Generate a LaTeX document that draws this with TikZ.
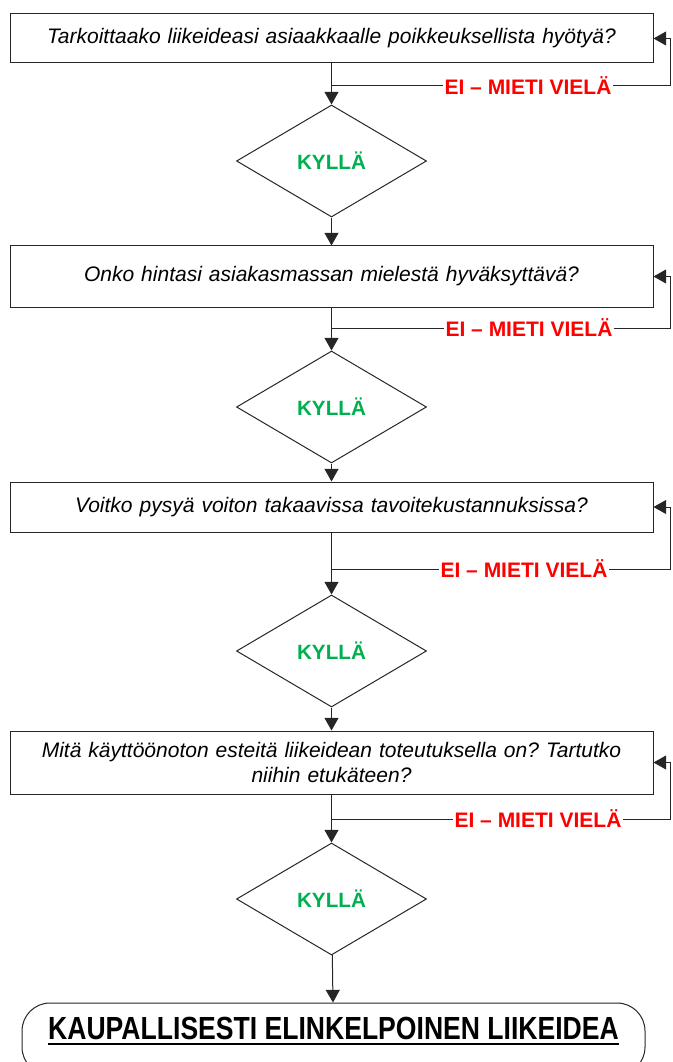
\documentclass[tikz,border=0pt]{standalone}
\usepackage{fontspec}
\setmainfont{Liberation Sans}
\usepackage{graphicx}
\usetikzlibrary{shapes.geometric,arrows.meta}
\definecolor{kgreen}{RGB}{0,176,80}
\definecolor{kred}{RGB}{255,0,0}
\newcommand\myul[1]{\setbox0\hbox{#1}\rlap{\rule[-3.75pt]{\wd0}{1.5pt}}\box0}
\frenchspacing
\begin{document}
\begin{tikzpicture}[x=0.75pt,y=-0.75pt,
  qbox/.style={draw=black!85, line width=0.75pt, minimum width=482.25pt, inner sep=0pt,
    align=center, text width=470pt, font=\fontsize{15.75pt}{18.75pt}\selectfont\itshape\frenchspacing},
  dec/.style={diamond, draw=black!85, line width=0.75pt, minimum width=142.5pt,
    minimum height=84pt, inner sep=0pt, text=kgreen, font=\fontsize{15.5pt}{18pt}\selectfont\bfseries},
  nolabel/.style={fill=white, inner sep=1.5pt, text=kred, font=\fontsize{15.75pt}{18pt}\selectfont\bfseries},
  arr/.style={draw=black!85, line width=0.75pt, -{Triangle[length=9.5pt,width=10.5pt]}},
  term/.style={draw=black!85, line width=0.75pt, rounded corners=21pt, minimum width=467.25pt, minimum height=54pt, inner sep=0pt}
]
\useasboundingbox (0,0) rectangle (672,1062);

% boxes
\node[qbox, minimum height=36.75pt] (b1) at (331.5,38.5) {Tarkoittaako liikeideasi asiaakkaalle poikkeuksellista hyötyä?};
\node[qbox, minimum height=45.75pt] (b2) at (331.5,276.5) {Onko hintasi asiakasmassan mielestä hyväksyttävä?};
\node[qbox, minimum height=37.5pt] (b3) at (331.5,507) {Voitko pysyä voiton takaavissa tavoitekustannuksissa?};
\node[qbox, minimum height=47.25pt] (b4) at (331.5,762.5) {Mitä käyttöönoton esteitä liikeidean toteutuksella on? Tartutko\\niihin etukäteen?};

% diamonds
\node[dec] (d1) at (331.5,161) {KYLLÄ};
\node[dec] (d2) at (331.5,407) {KYLLÄ};
\node[dec] (d3) at (331.5,651) {KYLLÄ};
\node[dec] (d4) at (331.5,899) {KYLLÄ};

% terminal
\node[term] (t) at (333.5,1039) {};
\node[inner sep=0pt, font=\fontsize{24pt}{28pt}\selectfont\bfseries] (tt) at (333.5,1031)
  {\myul{\scalebox{0.83}[1]{KAUPALLISESTI ELINKELPOINEN LIIKEIDEA}}};

% main flow
\draw[arr] (b1) -- (d1);
\draw[arr] (d1) -- (b2);
\draw[arr] (b2) -- (d2);
\draw[arr] (d2) -- (b3);
\draw[arr] (b3) -- (d3);
\draw[arr] (d3) -- (b4);
\draw[arr] (b4) -- (d4);
\draw[arr] (d4) -- (t);

% feedback loops
\coordinate (f1) at (331.5,86);  \coordinate (r1) at (670,86);
\coordinate (f2) at (331.5,328); \coordinate (r2) at (670,328);
\coordinate (f3) at (331.5,569); \coordinate (r3) at (670,569);
\coordinate (f4) at (331.5,819); \coordinate (r4) at (670,819);
\draw[arr] (f1) -- (r1) |- (b1.east);
\draw[arr] (f2) -- (r2) |- (b2.east);
\draw[arr] (f3) -- (r3) |- (b3.east);
\draw[arr] (f4) -- (r4) |- (b4.east);
\node[nolabel] (n1) at (528,86) {EI – MIETI VIELÄ};
\node[nolabel] (n2) at (529,328) {EI – MIETI VIELÄ};
\node[nolabel] (n3) at (524,569) {EI – MIETI VIELÄ};
\node[nolabel] (n4) at (538,819) {EI – MIETI VIELÄ};
\end{tikzpicture}
\end{document}
